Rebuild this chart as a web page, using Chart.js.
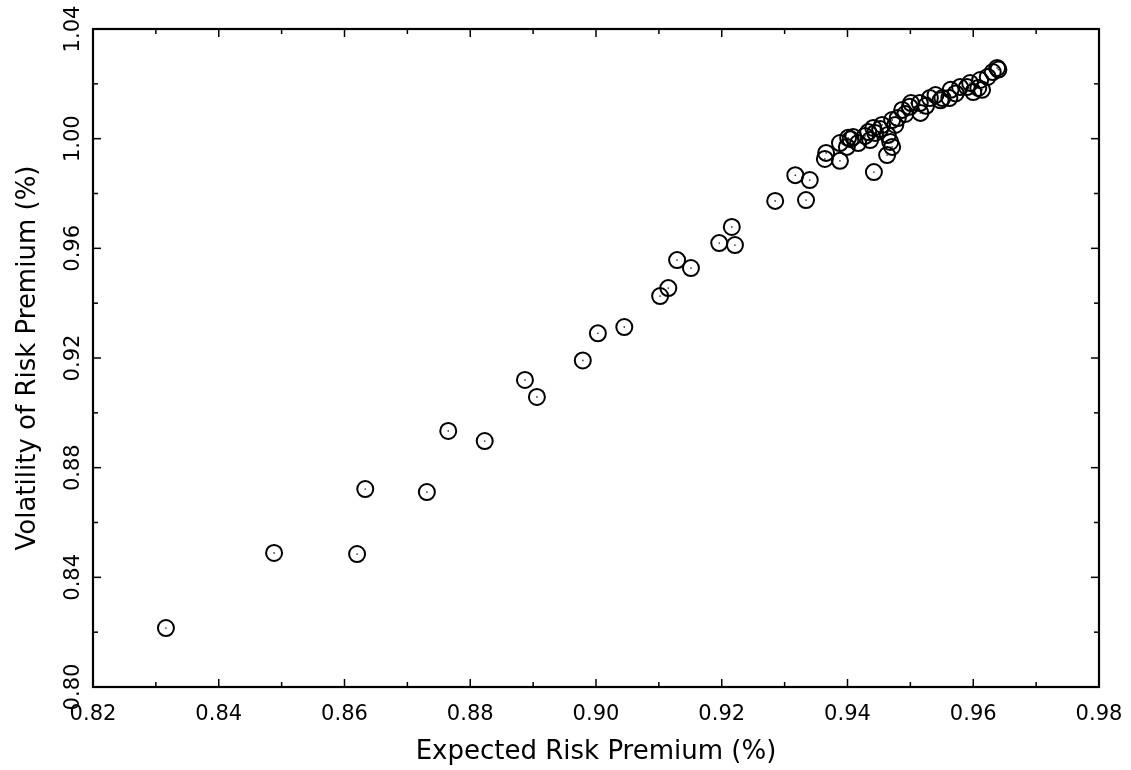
<!DOCTYPE html>
<html>
<head>
<meta charset="utf-8">
<script src="https://cdn.jsdelivr.net/npm/chart.js@4.4.0/dist/chart.umd.min.js"></script>
<style>
  html, body { margin: 0; padding: 0; background: #fff; }
  #wrap { width: 1131px; height: 770px; }
</style>
</head>
<body>
<div id="wrap"><canvas id="riskChart" width="1131" height="770"></canvas></div>
<script>
// expected risk premium (%) and volatility (%) per observation
const expected = [
  0.8316, 0.8488, 0.8620, 0.8633, 0.8731, 0.8765, 0.8823, 0.8887, 0.8906, 0.8979,
  0.9003, 0.9045, 0.9102, 0.9115, 0.9129, 0.9151, 0.9196, 0.9221, 0.9216, 0.9285,
  0.9317, 0.9340, 0.9334, 0.9366, 0.9364, 0.9388, 0.9388, 0.9399, 0.9401, 0.9409,
  0.9417, 0.9433, 0.9436, 0.9441, 0.9444, 0.9442, 0.9455, 0.9463, 0.9468, 0.9471,
  0.9464, 0.9471, 0.9480, 0.9476, 0.9487, 0.9499, 0.9501, 0.9515, 0.9516, 0.9531,
  0.9540, 0.9551, 0.9564, 0.9562, 0.9579, 0.9595, 0.9608, 0.9611, 0.9623, 0.9638,
  0.9631, 0.9614, 0.9590, 0.9600, 0.9405, 0.9428, 0.9452, 0.9492, 0.9525, 0.9548,
  0.9572, 0.9640
];
const volatility = [
  0.8215, 0.8489, 0.8485, 0.8722, 0.8711, 0.8934, 0.8897, 0.9120, 0.9058, 0.9191,
  0.9290, 0.9313, 0.9426, 0.9455, 0.9557, 0.9528, 0.9619, 0.9612, 0.9678, 0.9773,
  0.9867, 0.9849, 0.9776, 0.9948, 0.9926, 0.9919, 0.9984, 0.9970, 1.0003, 1.0006,
  0.9984, 1.0024, 0.9995, 1.0039, 1.0021, 0.9878, 1.0050, 0.9940, 0.9988, 0.9970,
  1.0013, 1.0068, 1.0075, 1.0050, 1.0105, 1.0116, 1.0130, 1.0130, 1.0094, 1.0148,
  1.0159, 1.0148, 1.0178, 1.0148, 1.0188, 1.0203, 1.0185, 1.0214, 1.0225, 1.0258,
  1.0243, 1.0178, 1.0188, 1.0170, 0.9998, 1.0010, 1.0035, 1.0090, 1.0120, 1.0140,
  1.0165, 1.0252
];

const xRange = [0.82, 0.98];
const yRange = [0.80, 1.04];

const points = expected.map((v, i) => ({ x: v, y: volatility[i] }));

const FONT = 'DejaVu Sans';

// inward tick marks on all four sides plus the box around the plot
const frameTicks = {
  id: 'frameTicks',
  afterDraw(chart) {
    const { ctx, chartArea: a, scales: { x, y } } = chart;
    ctx.save();
    ctx.strokeStyle = '#000';
    ctx.lineWidth = 1.5;
    const seg = (x1, y1, x2, y2) => {
      ctx.beginPath(); ctx.moveTo(x1, y1); ctx.lineTo(x2, y2); ctx.stroke();
    };
    x.ticks.forEach(t => {
      const px = x.getPixelForValue(t.value);
      const len = Math.round(t.value * 100) % 2 === 0 ? 8 : 5;
      seg(px, a.bottom, px, a.bottom - len);
      seg(px, a.top, px, a.top + len);
    });
    y.ticks.forEach(t => {
      const py = y.getPixelForValue(t.value);
      const len = Math.round(t.value * 100) % 4 === 0 ? 8 : 5;
      seg(a.left, py, a.left + len, py);
      seg(a.right, py, a.right - len, py);
    });
    ctx.lineWidth = 2.2;
    ctx.strokeRect(a.left, a.top, a.right - a.left, a.bottom - a.top);
    ctx.restore();
  }
};

new Chart(document.getElementById('riskChart'), {
  type: 'scatter',
  data: {
    datasets: [
      {
        data: points,
        pointRadius: 8,
        pointBorderWidth: 2,
        pointBorderColor: '#000',
        pointBackgroundColor: 'rgba(0,0,0,0)'
      },
      {
        // small dot in the middle of each ring
        data: points,
        pointRadius: 0.9,
        pointBorderWidth: 0,
        pointBackgroundColor: '#444'
      }
    ]
  },
  options: {
    responsive: false,
    animation: false,
    events: [],
    layout: { padding: { top: 29, right: 32, bottom: 0, left: 0 } },
    plugins: { legend: { display: false }, tooltip: { enabled: false } },
    scales: {
      x: {
        type: 'linear',
        min: xRange[0],
        max: xRange[1],
        grid: { display: false },
        border: { display: false },
        afterFit: s => { s.height = 83; },
        ticks: {
          stepSize: 0.01,
          autoSkip: false,
          maxRotation: 0,
          padding: 7,
          color: '#000',
          font: { family: FONT, size: 21 },
          callback: v => Math.round(v * 100) % 2 === 0 ? v.toFixed(2) : ''
        },
        title: {
          display: true,
          text: 'Expected Risk Premium (%)',
          color: '#000',
          font: { family: FONT, size: 26 },
          padding: { top: 0, bottom: 2 }
        }
      },
      y: {
        type: 'linear',
        min: yRange[0],
        max: yRange[1],
        grid: { display: false },
        border: { display: false },
        afterFit: s => { s.width = 93; },
        ticks: {
          stepSize: 0.02,
          autoSkip: false,
          minRotation: 90,
          maxRotation: 90,
          crossAlign: 'center',
          padding: -12,
          color: '#000',
          font: { family: FONT, size: 21 },
          callback: v => Math.round(v * 100) % 4 === 0 ? v.toFixed(2) : ''
        },
        title: {
          display: true,
          text: 'Volatility of Risk Premium (%)',
          color: '#000',
          font: { family: FONT, size: 26 },
          padding: { top: 13, bottom: 0 }
        }
      }
    }
  },
  plugins: [frameTicks]
});
</script>
</body>
</html>
